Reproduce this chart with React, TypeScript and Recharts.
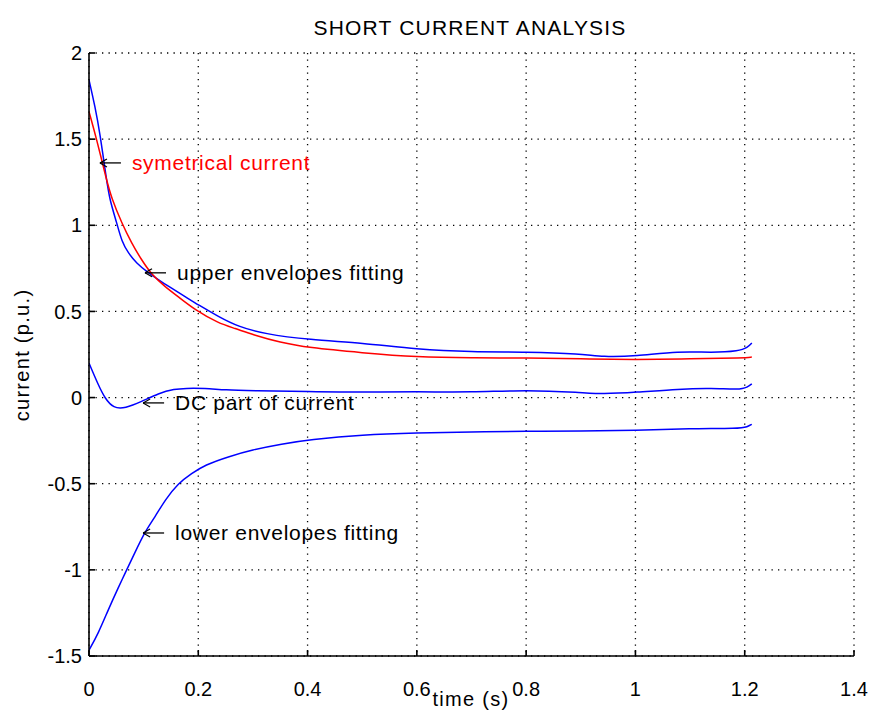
import React from 'react';
import {
  LineChart,
  Line,
  XAxis,
  YAxis,
  CartesianGrid,
  ReferenceDot,
} from 'recharts';

// symmetrical current (red)
const symTime = [0, 0.014, 0.032, 0.041, 0.06, 0.078, 0.096, 0.115, 0.139, 0.163, 0.194, 0.237, 0.267, 0.3, 0.35, 0.4, 0.5, 0.6, 0.7, 0.8, 0.9, 1.0, 1.1, 1.2, 1.213];
const symValue = [1.66, 1.5, 1.264, 1.16, 1.012, 0.896, 0.8, 0.712, 0.644, 0.586, 0.509, 0.431, 0.402, 0.365, 0.32, 0.29, 0.26, 0.235, 0.23, 0.23, 0.225, 0.22, 0.225, 0.23, 0.235];

// upper envelope fit
const upperTime = [0, 0.011, 0.02, 0.032, 0.038, 0.051, 0.06, 0.072, 0.087, 0.106, 0.127, 0.151, 0.176, 0.2, 0.237, 0.273, 0.32, 0.404, 0.5, 0.6, 0.7, 0.8, 0.9, 0.94, 1.0, 1.08, 1.14, 1.19, 1.205, 1.213];
const upperValue = [1.844, 1.69, 1.535, 1.264, 1.147, 1.012, 0.905, 0.838, 0.78, 0.731, 0.683, 0.635, 0.586, 0.538, 0.47, 0.412, 0.37, 0.335, 0.317, 0.28, 0.265, 0.265, 0.255, 0.235, 0.24, 0.27, 0.26, 0.27, 0.29, 0.317];

// DC component
const dcTime = [0, 0.017, 0.029, 0.045, 0.066, 0.096, 0.127, 0.157, 0.176, 0.212, 0.249, 0.3, 0.4, 0.5, 0.6, 0.7, 0.8, 0.9, 0.94, 1.0, 1.08, 1.14, 1.19, 1.205, 1.213];
const dcValue = [0.2, 0.073, -0.004, -0.062, -0.062, -0.024, 0.025, 0.05, 0.054, 0.054, 0.044, 0.04, 0.035, 0.03, 0.035, 0.03, 0.045, 0.03, 0.02, 0.03, 0.05, 0.055, 0.045, 0.06, 0.08];

// lower envelope fit
const lowerTime = [0, 0.017, 0.035, 0.054, 0.066, 0.084, 0.102, 0.121, 0.139, 0.163, 0.188, 0.212, 0.255, 0.298, 0.353, 0.404, 0.5, 0.6, 0.7, 0.8, 0.9, 1.0, 1.1, 1.19, 1.205, 1.213];
const lowerValue = [-1.466, -1.369, -1.233, -1.1, -1.02, -0.9, -0.78, -0.692, -0.595, -0.498, -0.44, -0.391, -0.343, -0.304, -0.269, -0.245, -0.215, -0.205, -0.2, -0.195, -0.195, -0.19, -0.18, -0.18, -0.17, -0.155];

const xTicks = [0, 0.2, 0.4, 0.6, 0.8, 1, 1.2, 1.4];
const yTicks = [-1.5, -1, -0.5, 0, 0.5, 1, 1.5, 2];

// arrow annotations: where the arrow points, and its text
const notes = [
  { t: 0.02, v: 1.362, text: 'symetrical current', color: '#ff0000' },
  { t: 0.1025, v: 0.724, text: 'upper envelopes fitting', color: '#000000' },
  { t: 0.099, v: -0.031, text: 'DC part of current', color: '#000000' },
  { t: 0.099, v: -0.786, text: 'lower envelopes fitting', color: '#000000' },
];

const toPoints = (ts: number[], vs: number[]) => ts.map((t, i) => ({ t, v: vs[i] }));

const FONT = '"Liberation Sans", Arial, sans-serif';

const fmt = (n: number) => String(n);

const Arrow = ({ cx, cy, text, color }: any) => (
  <g>
    <line x1={cx} y1={cy} x2={cx + 21} y2={cy} stroke="#000" strokeWidth={1.3} />
    <line x1={cx} y1={cy} x2={cx + 7} y2={cy - 4} stroke="#000" strokeWidth={1.2} />
    <line x1={cx} y1={cy} x2={cx + 7} y2={cy + 4} stroke="#000" strokeWidth={1.2} />
    <text x={cx + 32} y={cy + 7} fill={color} fontSize={21} letterSpacing={0.7} fontFamily={FONT}>
      {text}
    </text>
  </g>
);

const lineProps = { dataKey: 'v', type: 'basis' as const, strokeWidth: 1.5, dot: false, isAnimationActive: false };

export default function App() {
  return (
    <div style={{ position: 'absolute', left: 0, top: 0, width: 870, height: 716, background: '#fff' }}>
      <LineChart
        width={870}
        height={716}
        margin={{ top: 53, right: 16, left: 29, bottom: 20 }}
        style={{ fontFamily: FONT }}
      >
        <CartesianGrid stroke="#000" strokeWidth={1.3} strokeDasharray="1.3 5.2" />
        <XAxis
          type="number"
          dataKey="t"
          domain={[0, 1.4]}
          ticks={xTicks}
          tickFormatter={fmt}
          allowDataOverflow
          height={40}
          stroke="#000"
          strokeWidth={1.6}
          tickSize={-6}
          tickMargin={32}
          tick={{ fill: '#000', fontSize: 20 }}
        />
        <YAxis
          type="number"
          dataKey="v"
          domain={[-1.5, 2]}
          ticks={yTicks}
          tickFormatter={fmt}
          allowDataOverflow
          width={60}
          stroke="#000"
          strokeWidth={1.6}
          tickSize={-6}
          tickMargin={13}
          tick={{ fill: '#000', fontSize: 20 }}
        />
        <Line {...lineProps} data={toPoints(upperTime, upperValue)} stroke="#0000ff" />
        <Line {...lineProps} data={toPoints(dcTime, dcValue)} stroke="#0000ff" />
        <Line {...lineProps} data={toPoints(lowerTime, lowerValue)} stroke="#0000ff" />
        <Line {...lineProps} data={toPoints(symTime, symValue)} stroke="#ff0000" />
        {notes.map((n) => (
          <ReferenceDot
            key={n.text}
            x={n.t}
            y={n.v}
            ifOverflow="visible"
            shape={(p: any) => <Arrow cx={p.cx} cy={p.cy} text={n.text} color={n.color} />}
          />
        ))}
      </LineChart>
      <svg width={870} height={716} style={{ position: 'absolute', left: 0, top: 0, pointerEvents: 'none' }}>
        <text x={470} y={35} textAnchor="middle" fontSize={21} letterSpacing={1.2} fontFamily={FONT} fill="#000">
          SHORT CURRENT ANALYSIS
        </text>
        <text x={471} y={706} textAnchor="middle" fontSize={20} letterSpacing={1.3} fontFamily={FONT} fill="#000">
          time (s)
        </text>
        <text
          x={0}
          y={0}
          transform="translate(29 355) rotate(-90)"
          textAnchor="middle"
          fontSize={20}
          letterSpacing={1.3}
          fontFamily={FONT}
          fill="#000"
        >
          current (p.u.)
        </text>
      </svg>
    </div>
  );
}
